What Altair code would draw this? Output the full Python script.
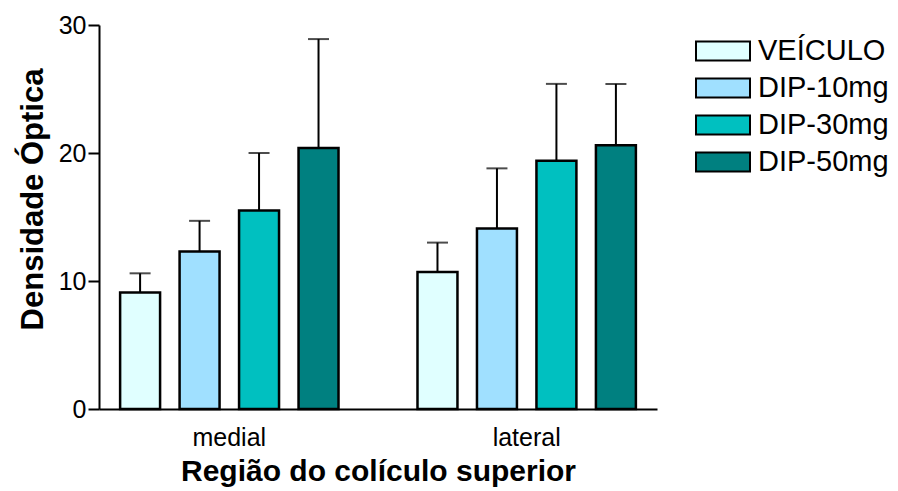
import altair as alt
import pandas as pd

regions = ["medial", "lateral"]
groups = ["VEÍCULO", "DIP-10mg", "DIP-30mg", "DIP-50mg"]
colors = ["#E0FFFF", "#A0E0FF", "#00C0C0", "#008080"]

medial_mean = [9.1, 12.3, 15.5, 20.4]
medial_sem = [1.5, 2.4, 4.5, 8.5]
lateral_mean = [10.7, 14.1, 19.4, 20.6]
lateral_sem = [2.3, 4.7, 6.0, 4.8]

y_ticks = [0, 10, 20, 30]

rows = []
for reg, means, sems in [("medial", medial_mean, medial_sem),
                         ("lateral", lateral_mean, lateral_sem)]:
    for g, m, s in zip(groups, means, sems):
        rows.append({"regiao": reg, "grupo": g, "media": m, "sup": m + s})
df = pd.DataFrame(rows)

FONT = "Liberation Sans"

x = alt.X(
    "regiao:N",
    sort=regions,
    scale=alt.Scale(paddingInner=0.2656, paddingOuter=0.071),
    axis=alt.Axis(
        title="Região do colículo superior",
        labelAngle=0,
        ticks=False,
        domainWidth=2,
        domainColor="black",
        labelFontSize=25,
        labelFont=FONT,
        labelColor="black",
        labelPadding=16,
        titleFont=FONT,
        titleFontSize=30,
        titleFontWeight="bold",
        titleColor="black",
        titleBaseline="alphabetic",
        titleY=71,
    ),
)
xo = alt.XOffset("grupo:N", sort=groups,
                 scale=alt.Scale(paddingInner=0.328, paddingOuter=0))

yscale = alt.Scale(domain=[0, 30], nice=False)
yaxis = alt.Axis(
    title="Densidade Óptica",
    values=y_ticks,
    grid=False,
    tickSize=11,
    tickWidth=2,
    tickColor="black",
    domainWidth=2,
    domainColor="black",
    labelFontSize=25,
    labelFont=FONT,
    labelColor="black",
    labelPadding=2,
    titleFont=FONT,
    titleFontSize=31,
    titleFontWeight="bold",
    titleColor="black",
    titleAngle=270,
    titleAlign="center",
    titleBaseline="alphabetic",
    titleX=-57,
    titleY=174,
)

base = alt.Chart(df)

err = base.mark_rule(color="black", strokeWidth=2).encode(
    x=x, xOffset=xo,
    y=alt.Y("media:Q", scale=yscale, axis=yaxis),
    y2="sup:Q",
)
cap = base.mark_tick(color="black", thickness=2, size=21, orient="horizontal").encode(
    x=x, xOffset=xo,
    y=alt.Y("sup:Q", scale=yscale),
)
bars = base.mark_bar(stroke="black", strokeWidth=2.5, opacity=1).encode(
    x=x, xOffset=xo,
    y=alt.Y("media:Q", scale=yscale, axis=yaxis),
    color=alt.Color(
        "grupo:N",
        sort=groups,
        scale=alt.Scale(domain=groups, range=colors),
        legend=alt.Legend(
            title=None,
            orient="none",
            legendX=596,
            legendY=9,
            padding=0,
            symbolType="M-1,-0.35L1,-0.35L1,0.35L-1,0.35Z",
            symbolSize=2916,
            symbolStrokeColor="black",
            symbolStrokeWidth=2,
            symbolOpacity=1,
            labelFont=FONT,
            labelFontSize=29,
            labelColor="black",
            labelOffset=7,
            clipHeight=34,
            rowPadding=3,
        ),
    ),
)

chart = alt.layer(err, cap, bars).properties(
    width=558,
    height=384,
    background="white",
    autosize=alt.AutoSizeParams(type="none"),
    padding={"left": 91, "top": 17, "right": 233, "bottom": 82},
).configure_view(strokeWidth=0)

chart.save("out.html", embed_options={"renderer": "svg", "actions": False})
